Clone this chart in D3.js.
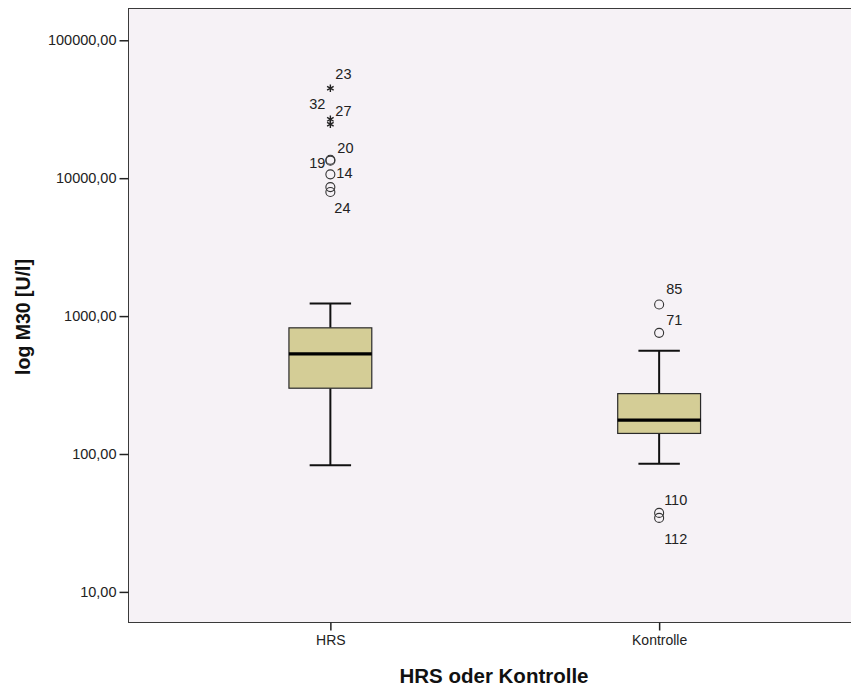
<!DOCTYPE html>
<html>
<head>
<meta charset="utf-8">
<script src="https://cdn.jsdelivr.net/npm/d3@7"></script>
<style>
  html, body { margin: 0; padding: 0; background: #ffffff; }
  svg { display: block; }
  text { font-family: "Liberation Sans", Arial, sans-serif; }
</style>
</head>
<body>
<svg id="chart" width="851" height="688"></svg>
<script>
// Groups on the x axis
const groups = ["HRS", "Kontrolle"];

// Five-number summaries per group (M30 in U/l)
const whiskerLow  = [83, 85];
const quartile1   = [300, 141];
const medians     = [532, 176];
const quartile3   = [822, 274];
const whiskerHigh = [1234, 560];

// Outliers per group: case number, value, and whether it is an extreme value (*)
const outlierGroup = ["HRS", "HRS", "HRS", "HRS", "HRS", "HRS", "HRS", "HRS",
                      "Kontrolle", "Kontrolle", "Kontrolle", "Kontrolle"];
const outlierCase  = ["23", "32", "27", "20", "19", "14", null, "24",
                      "85", "71", "110", "112"];
const outlierValue = [44850, 26700, 24600, 13600, 13400, 10660, 8620, 7940,
                      1214, 756, 37.4, 34.4];
const outlierExtreme = [true, true, true, false, false, false, false, false,
                        false, false, false, false];

// Y axis ticks
const yTicks = [10, 100, 1000, 10000, 100000];

// Label placement next to each outlier marker (dx, dy, anchor)
const labelNudge = [
  [5, -9, "start"], [-5, -10, "end"], [5, -8, "start"], [7, -7, "start"],
  [-5, 7, "end"], [6, 4, "start"], [0, 0, "start"], [4, 21, "start"],
  [7, -10, "start"], [7, -8, "start"], [5, -8, "start"], [5, 26, "start"]
];

const svg = d3.select("#chart");
const plot = { left: 128.5, right: 861, top: 8.5, bottom: 622.5 };

const x = d3.scalePoint()
  .domain(groups)
  .range([plot.left, plot.right])
  .padding(0.614);

const y = d3.scaleLog()
  .domain([6, 170000])
  .range([plot.bottom, plot.top]);

const boxW = x.step() * 0.252;
const capW = boxW / 2;

// Plot background and frame
svg.append("rect")
  .attr("x", plot.left).attr("y", plot.top)
  .attr("width", plot.right - plot.left).attr("height", plot.bottom - plot.top)
  .attr("fill", "#f6f2f6")
  .attr("stroke", "#3a3a3a").attr("stroke-width", 1);

// Y axis
const locale = d3.formatLocale({ decimal: ",", thousands: "", grouping: [3], currency: ["", ""] });
const fmt = locale.format(".2f");
const yAxis = d3.axisLeft(y).tickValues(yTicks).tickFormat(fmt).tickSize(9).tickPadding(3);
const gy = svg.append("g").attr("transform", `translate(${plot.left},0)`).call(yAxis);
gy.select(".domain").remove();
gy.selectAll(".tick line").attr("stroke", "#222").attr("stroke-width", 1.5);
gy.selectAll(".tick text").attr("font-size", "14.5px").attr("fill", "#222")
  .attr("font-family", "'Liberation Sans', Arial, sans-serif");

// X axis
const xAxis = d3.axisBottom(x).tickSize(8).tickPadding(5);
const gx = svg.append("g").attr("transform", `translate(0,${plot.bottom})`).call(xAxis);
gx.select(".domain").remove();
gx.selectAll(".tick line").attr("stroke", "#222").attr("stroke-width", 1.5);
gx.selectAll(".tick text").attr("font-size", "14px").attr("fill", "#222")
  .attr("font-family", "'Liberation Sans', Arial, sans-serif");

// Boxes
const boxes = groups.map((g, i) => ({
  g, lo: whiskerLow[i], q1: quartile1[i], med: medians[i], q3: quartile3[i], hi: whiskerHigh[i]
}));

const bg = svg.append("g").selectAll("g").data(boxes).join("g");

bg.append("line")
  .attr("x1", d => x(d.g)).attr("x2", d => x(d.g))
  .attr("y1", d => y(d.hi)).attr("y2", d => y(d.q3))
  .attr("stroke", "#111").attr("stroke-width", 2);
bg.append("line")
  .attr("x1", d => x(d.g)).attr("x2", d => x(d.g))
  .attr("y1", d => y(d.q1)).attr("y2", d => y(d.lo))
  .attr("stroke", "#111").attr("stroke-width", 2);
bg.append("line")
  .attr("x1", d => x(d.g) - capW / 2).attr("x2", d => x(d.g) + capW / 2)
  .attr("y1", d => y(d.hi)).attr("y2", d => y(d.hi))
  .attr("stroke", "#111").attr("stroke-width", 2);
bg.append("line")
  .attr("x1", d => x(d.g) - capW / 2).attr("x2", d => x(d.g) + capW / 2)
  .attr("y1", d => y(d.lo)).attr("y2", d => y(d.lo))
  .attr("stroke", "#111").attr("stroke-width", 2);
bg.append("rect")
  .attr("x", d => x(d.g) - boxW / 2).attr("width", boxW)
  .attr("y", d => y(d.q3)).attr("height", d => y(d.q1) - y(d.q3))
  .attr("fill", "#d4cd96").attr("stroke", "#2a2a2a").attr("stroke-width", 1.2);
bg.append("line")
  .attr("x1", d => x(d.g) - boxW / 2).attr("x2", d => x(d.g) + boxW / 2)
  .attr("y1", d => y(d.med)).attr("y2", d => y(d.med))
  .attr("stroke", "#000").attr("stroke-width", 3.2);

// Outliers
const outliers = outlierValue.map((v, i) => ({
  g: outlierGroup[i], v, id: outlierCase[i], extreme: outlierExtreme[i], nudge: labelNudge[i]
}));

const og = svg.append("g");
og.selectAll("circle").data(outliers.filter(d => !d.extreme)).join("circle")
  .attr("cx", d => x(d.g)).attr("cy", d => y(d.v)).attr("r", 4.5)
  .attr("fill", "none").attr("stroke", "#333").attr("stroke-width", 1.1);

og.selectAll("path").data(outliers.filter(d => d.extreme)).join("path")
  .attr("transform", d => `translate(${x(d.g)},${y(d.v)})`)
  .attr("d", d3.symbol(d3.symbolAsterisk, 40))
  .attr("fill", "none").attr("stroke", "#222").attr("stroke-width", 1.4);

og.selectAll("text").data(outliers.filter(d => d.id !== null)).join("text")
  .attr("x", d => x(d.g) + d.nudge[0]).attr("y", d => y(d.v) + d.nudge[1])
  .attr("text-anchor", d => d.nudge[2])
  .attr("font-size", "14.5px").attr("fill", "#222")
  .text(d => d.id);

// Axis titles
svg.append("text")
  .attr("transform", `translate(30,317) rotate(-90)`)
  .attr("text-anchor", "middle")
  .attr("font-size", "19.5px").attr("font-weight", "bold").attr("fill", "#111")
  .text("log M30 [U/l]");

svg.append("text")
  .attr("x", 494).attr("y", 683)
  .attr("text-anchor", "middle")
  .attr("font-size", "20.5px").attr("font-weight", "bold").attr("fill", "#111")
  .text("HRS oder Kontrolle");
</script>
</body>
</html>
